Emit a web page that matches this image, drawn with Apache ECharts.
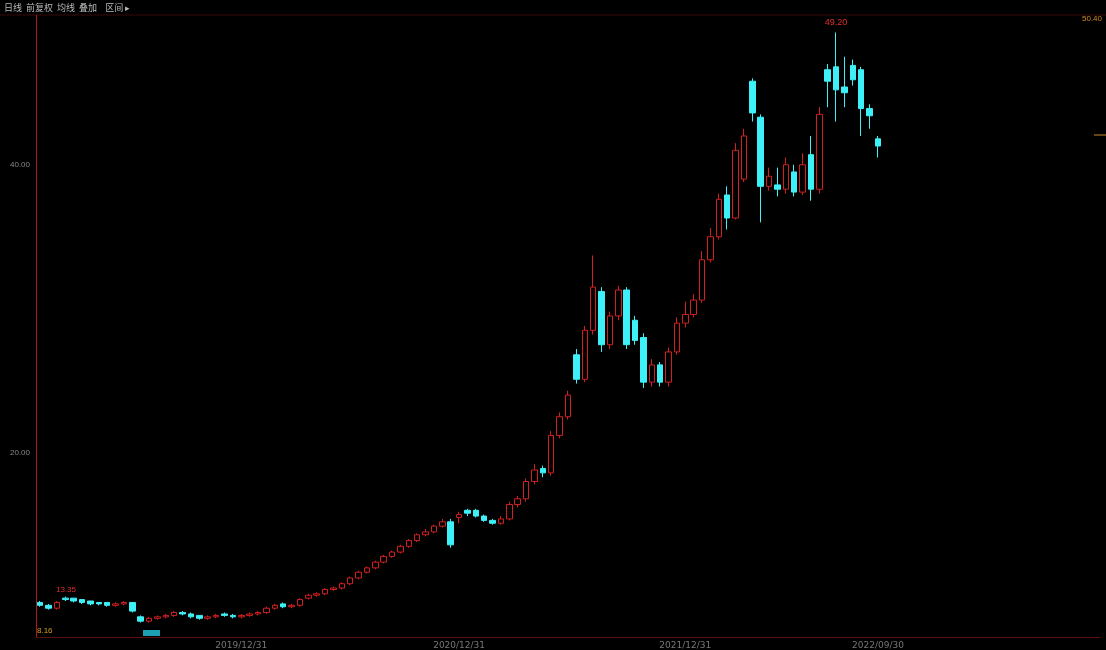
<!DOCTYPE html>
<html>
<head>
<meta charset="utf-8">
<script src="https://cdn.jsdelivr.net/npm/echarts@6/dist/echarts.min.js"></script>
<style>html,body{margin:0;padding:0;background:#000;}#main{width:1106px;height:650px;}</style>
</head>
<body>
<div id="main"></div>
<script>
// 日K线数据（前复权）
var opens = [9.6,9.4,9.2,9.9,9.9,9.8,9.7,9.6,9.6,9.4,9.5,9.6,
	8.6,8.3,8.5,8.6,8.7,8.9,8.8,
	8.7,8.5,8.6,8.8,8.7,8.6,
	8.7,8.8,8.9,9.2,9.5,9.3,
	9.4,9.9,10.1,
	10.2,10.5,10.6,10.9,11.3,11.7,
	12.0,12.4,12.8,13.1,13.5,
	13.9,14.3,14.5,14.9,15.2,
	15.5,16.0,16.0,15.6,
	15.3,15.1,15.4,
	16.4,16.8,
	18.0,18.9,
	18.6,21.2,22.5,
	26.8,25.1,28.5,31.2,27.5,29.5,31.3,29.2,28.0,24.9,26.1,24.9,27.0,29.0,
	29.6,30.6,33.4,35.0,37.9,36.3,39.0,45.8,43.3,38.5,38.6,38.3,39.5,38.1,40.7,38.3,46.6,46.8,45.4,46.9,46.6,43.9,41.8];
var closes = [9.4,9.2,9.6,9.8,9.7,9.6,9.5,9.5,9.4,9.5,9.6,9.0,
	8.3,8.5,8.6,8.7,8.9,8.8,8.6,
	8.5,8.6,8.7,8.7,8.6,8.7,
	8.8,8.9,9.2,9.4,9.3,9.4,
	9.8,10.1,10.2,
	10.5,10.6,10.9,11.3,11.7,12.0,
	12.4,12.8,13.1,13.5,13.9,
	14.3,14.5,14.9,15.2,13.6,
	15.7,15.8,15.6,15.3,
	15.1,15.4,16.4,
	16.8,18.0,
	18.8,18.6,
	21.2,22.5,24.0,
	25.1,28.5,31.5,27.5,29.5,31.3,27.5,27.8,24.9,26.1,24.9,27.0,29.0,29.6,
	30.6,33.4,35.0,37.6,36.3,41.0,42.0,43.6,38.5,39.2,38.3,40.0,38.1,40.0,38.3,43.5,45.8,45.2,45.0,45.9,43.9,43.4,41.3];
var lows = [9.3,9.1,9.1,9.7,9.6,9.5,9.4,9.4,9.3,9.3,9.4,8.9,
	8.2,8.2,8.4,8.5,8.6,8.7,8.5,
	8.4,8.4,8.5,8.6,8.5,8.5,
	8.6,8.7,8.8,9.1,9.2,9.2,
	9.3,9.8,10.0,
	10.1,10.4,10.5,10.8,11.2,11.6,
	11.9,12.3,12.7,13.0,13.4,
	13.8,14.2,14.4,14.8,13.4,
	15.1,15.6,15.5,15.2,
	15.0,15.0,15.3,
	16.2,16.6,
	17.8,18.3,
	18.4,21.0,22.3,
	24.8,24.9,28.2,27.0,27.2,29.2,27.2,27.5,24.5,24.6,24.6,24.6,26.8,28.7,
	29.4,30.4,33.2,34.8,35.5,36.2,38.8,43.0,36.0,38.2,37.8,38.0,37.8,37.9,37.5,38.0,44.0,43.0,44.0,45.5,42.0,42.5,40.5];
var highs = [9.7,9.5,9.7,10.0,9.9,9.8,9.7,9.6,9.6,9.6,9.7,9.6,
	8.7,8.6,8.7,8.8,9.0,9.0,8.9,
	8.7,8.7,8.8,8.9,8.8,8.8,
	8.9,9.0,9.3,9.5,9.6,9.5,
	9.9,10.2,10.3,
	10.6,10.7,11.0,11.4,11.8,12.1,
	12.5,12.9,13.2,13.6,14.0,
	14.4,14.7,15.0,15.4,15.4,
	15.9,16.1,16.1,15.7,
	15.4,15.6,16.6,
	17.0,18.2,
	19.2,19.1,
	21.5,22.8,24.3,
	27.2,28.8,33.7,31.5,29.8,31.6,31.5,29.5,28.3,26.5,26.3,27.3,29.4,30.5,
	31.0,34.0,35.6,38.0,38.5,41.5,42.5,46.0,43.5,39.8,39.8,40.5,40.0,40.8,42.0,44.0,47.0,49.2,47.5,47.3,46.8,44.2,42.0];
var yTicks = [20, 40];
var dateLabels = {24: '2019/12/31', 50: '2020/12/31', 77: '2021/12/31', 100: '2022/09/30'};
var totalBars = 127;

var cats = [];
for (var i = 0; i < totalBars; i++) {
	cats.push(dateLabels[i] || String(i));
}
var kData = [];
for (var i = 0; i < opens.length; i++) {
	kData.push([opens[i], closes[i], lows[i], highs[i]]);
}

var chart = echarts.init(document.getElementById('main'));
var option = {
	backgroundColor: '#000',
	animation: false,
	grid: {left: 36, right: 6, top: 15, bottom: 13},
	xAxis: {
		type: 'category',
		data: cats,
		boundaryGap: true,
		axisLine: {lineStyle: {color: '#5a1010'}},
		axisTick: {show: false},
		splitLine: {show: false},
		axisLabel: {
			color: '#777', fontSize: 9, margin: 4, fontFamily: 'DejaVu Sans',
			interval: function (idx) { return !!dateLabels[idx]; },
			formatter: function (v) { return v.indexOf('/') > 0 ? v : ''; }
		}
	},
	yAxis: {
		type: 'value',
		min: 7.2,
		max: 50.4,
		axisLine: {show: true, lineStyle: {color: '#b01818'}},
		axisTick: {show: false},
		splitLine: {show: false},
		axisLabel: {
			customValues: yTicks, inside: true, color: '#888', fontSize: 8,
			margin: -26, verticalAlign: 'middle',
			formatter: function (v) { return v.toFixed(2); }
		}
	},
	series: [{
		type: 'candlestick',
		data: kData,
		barWidth: 6,
		itemStyle: {
			color: '#000',
			color0: '#3ef0f8',
			borderColor: '#d02020',
			borderColor0: '#3ef0f8',
			borderWidth: 1
		},
		markPoint: {
			symbol: 'rect', symbolSize: 1,
			data: [{type: 'max', valueDim: 'highest'}],
			label: {position: 'top', color: '#e03030', fontSize: 9, formatter: function (p) { return p.value.toFixed(2); }}
		}
	}],
	graphic: [
		{type: 'line', shape: {x1: 0, y1: 15, x2: 1106, y2: 15}, style: {stroke: '#3a0808', lineWidth: 1}},
		{type: 'text', left: 4, top: 3, style: {text: '日线  前复权  均线  叠加    区间 ▸', fill: '#bbb', fontSize: 9, fontFamily: 'Noto Sans CJK SC'}},
		{type: 'text', left: 1082, top: 15, style: {text: '50.40', fill: '#d08a20', fontSize: 8}},
		{type: 'line', shape: {x1: 1094, y1: 135, x2: 1106, y2: 135}, style: {stroke: '#d08a20', lineWidth: 1}},
		{type: 'text', left: 56, top: 586, style: {text: '13.35', fill: '#e03030', fontSize: 8}},
		{type: 'text', left: 37, top: 627, style: {text: '8.16', fill: '#d0a020', fontSize: 8}},
		{type: 'rect', shape: {x: 143, y: 630, width: 17, height: 6}, style: {fill: '#1aa0b0'}}
	]
};
chart.setOption(option);
</script>
</body>
</html>
